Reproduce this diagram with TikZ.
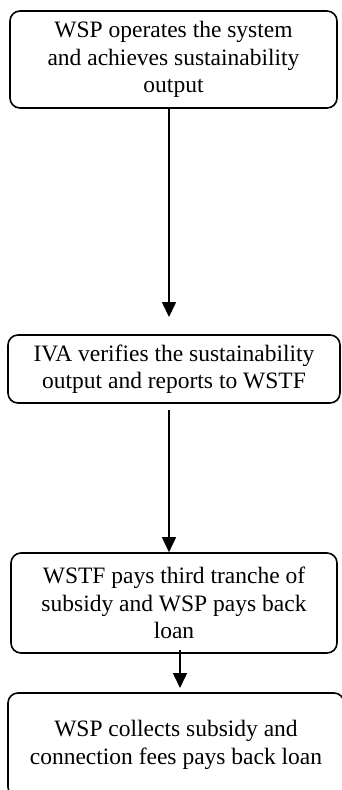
\documentclass[tikz,border=0pt]{standalone}
\usepackage{fontspec}
\setmainfont{Liberation Serif}
\usetikzlibrary{arrows.meta}
\begin{document}
\begin{tikzpicture}[x=1pt,y=1pt,
  stepbox/.style={draw, line width=1.6pt, rounded corners=10pt, align=center,
    inner sep=0pt, font=\fontsize{23.5}{27.3}\selectfont},
  flow/.style={line width=1.6pt, -{Triangle[length=15pt,width=14pt]}}]
\useasboundingbox (0,0) rectangle (341,-790);
\fill[white] (0,0) rectangle (341,-790);
% process steps
\node[stepbox, minimum width=327, minimum height=97] (b1) at (173.5,-59.5)
  {WSP operates the system\\and achieves sustainability\\output};
\node[stepbox, minimum width=332, minimum height=68] (b2) at (174,-369)
  {IVA verifies the sustainability\\output and reports to WSTF};
\node[stepbox, minimum width=326, minimum height=100] (b3) at (174,-603)
  {WSTF pays third tranche of\\subsidy and WSP pays back\\loan};
\node[stepbox, minimum width=336, minimum height=104] (b4) at (176,-745)
  {WSP collects subsidy and\\connection fees pays back loan};
% connectors
\coordinate (t1) at (169,-317);
\coordinate (t3) at (180,-688);
\draw[flow] (b1.south -| t1) -- (t1);
\draw[flow] ([yshift=-6pt]b2.south -| t1) -- (b3.north -| t1);
\draw[flow] ([yshift=4pt]b3.south -| t3) -- (t3);
\end{tikzpicture}
\end{document}
